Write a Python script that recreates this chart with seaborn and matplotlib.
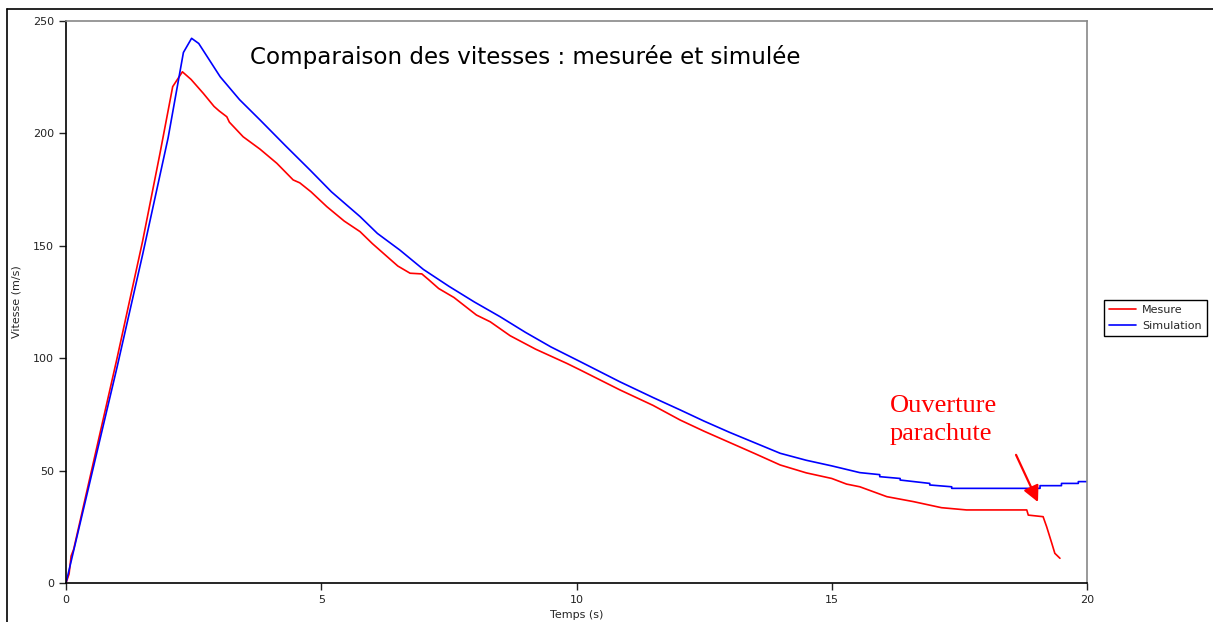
import matplotlib
matplotlib.use("Agg")
import matplotlib.pyplot as plt
from matplotlib.lines import Line2D
import seaborn as sns
import pandas as pd

# ---- data ----
t_mesure = [0.0, 0.06, 0.10, 0.15, 0.5, 1.0, 1.5, 1.84, 2.09, 2.28, 2.45, 2.69, 2.9, 3.0,
            3.15, 3.2, 3.47, 3.8, 4.13, 4.45, 4.58, 4.8, 5.11, 5.45, 5.76, 6.0, 6.2, 6.5,
            6.74, 6.97, 7.1, 7.3, 7.6, 8.04, 8.31, 8.7, 9.2, 9.81, 10.07, 10.85, 11.5,
            12.03, 12.5, 13.0, 13.5, 13.99, 14.5, 15.0, 15.29, 15.55, 16.08, 16.6, 17.15,
            17.64, 18.82, 18.85, 19.14, 19.21, 19.31, 19.37, 19.47]
v_mesure = [0.0, 4.0, 12.0, 15.0, 50.0, 100.0, 152.0, 191.0, 220.8, 227.4, 224.0, 217.8,
            212.0, 210.0, 207.4, 205.0, 198.5, 193.0, 186.7, 179.3, 178.0, 174.0, 167.4,
            161.0, 156.3, 151.0, 147.0, 141.0, 137.8, 137.5, 135.0, 131.0, 127.0, 119.2,
            116.2, 110.0, 104.0, 97.7, 94.8, 85.9, 79.0, 72.5, 67.5, 62.5, 57.5, 52.5, 49.0,
            46.5, 44.0, 42.8, 38.4, 36.2, 33.5, 32.5, 32.5, 30.2, 29.5, 25.0, 17.7, 13.2, 11.0]

t_simul = [0.0, 0.5, 1.0, 1.5, 2.0, 2.3, 2.46, 2.6, 3.02, 3.4, 3.8, 4.3, 4.78, 5.2, 5.76,
           6.1, 6.54, 7.0, 7.5, 8.0, 8.5, 9.0, 9.5, 10.07, 10.85, 11.5, 12.03, 12.5, 13.0,
           13.5, 13.99, 14.5, 15.0, 15.55, 15.94, 15.94, 16.34, 16.34, 16.92, 16.92, 17.35,
           17.35, 19.08, 19.08, 19.50, 19.50, 19.83, 19.83, 20.0]
v_simul = [0.0, 48.0, 96.0, 146.0, 198.0, 236.0, 242.3, 240.0, 225.2, 215.0, 206.0, 194.5,
           183.7, 174.0, 163.0, 155.5, 148.1, 139.5, 132.0, 125.0, 118.5, 111.5, 105.0,
           98.5, 89.5, 82.5, 77.0, 72.0, 67.0, 62.3, 57.7, 54.6, 52.1, 49.1, 48.2, 47.3,
           46.5, 45.8, 44.3, 43.6, 42.8, 42.1, 42.1, 43.3, 43.3, 44.3, 44.3, 45.1, 45.1]

series_names = ["Mesure", "Simulation"]
title_text = "Comparaison des vitesses : mesurée et simulée"
x_label = "Temps (s)"
y_label = "Vitesse (m/s)"
annot_text = "Ouverture\nparachute"

df = pd.concat([
    pd.DataFrame({"t": t_mesure, "v": v_mesure, "serie": series_names[0]}),
    pd.DataFrame({"t": t_simul, "v": v_simul, "serie": series_names[1]}),
], ignore_index=True)

sns.set_style("white")
plt.rcParams["font.family"] = ["DejaVu Sans"]

fig = plt.figure(figsize=(12.13, 6.22), dpi=100)
ax = fig.add_axes([66 / 1213, 1 - 583 / 622, (1087 - 66) / 1213, (583 - 21) / 622])

sns.lineplot(data=df, x="t", y="v", hue="serie", hue_order=series_names,
             palette={"Mesure": "#ff0000", "Simulation": "#0000ff"},
             sort=False, estimator=None, linewidth=1.2, ax=ax, legend=True)

ax.set_xlim(0, 20)
ax.set_ylim(0, 250)
ax.set_xticks([0, 5, 10, 15, 20])
ax.set_yticks([0, 50, 100, 150, 200, 250])
ax.tick_params(axis="both", labelsize=8, length=5, width=1, direction="out",
               colors="#222222", left=True, bottom=True)
ax.set_xlabel(x_label, fontsize=8, labelpad=4)
ax.set_ylabel(y_label, fontsize=8, labelpad=8)

for s in ["left", "bottom"]:
    ax.spines[s].set_color("black")
    ax.spines[s].set_linewidth(1.2)
for s in ["top", "right"]:
    ax.spines[s].set_color("#888888")
    ax.spines[s].set_linewidth(1.2)
    ax.spines[s].set_visible(True)

ax.text(0.45, 0.936, title_text, transform=ax.transAxes, fontsize=16.6,
        ha="center", va="center", color="black")

ax.annotate("", xy=(19.04, 36.0), xytext=(18.61, 57.0),
            arrowprops=dict(arrowstyle="-|>", color="red", lw=1.6, mutation_scale=24,
                            shrinkA=0, shrinkB=0))
ax.text(16.14, 83.5, annot_text, color="red", fontsize=19,
        family=["Liberation Serif", "DejaVu Serif"], ha="left", va="top", linespacing=1.35)

handles, labels = ax.get_legend_handles_labels()
ax.legend(handles, labels, loc="center left",
          bbox_to_anchor=(1104 / 1213, 1 - 318 / 622), bbox_transform=fig.transFigure,
          borderaxespad=0, fontsize=8, frameon=True, fancybox=False, edgecolor="black",
          framealpha=1, handlelength=2.4, handletextpad=0.6, borderpad=0.45,
          labelspacing=0.5)
ax.get_legend().get_frame().set_linewidth(1.0)

# outer (cropped) frame of the original image
fig.add_artist(Line2D([7 / 1213, 7 / 1213], [0, 1 - 9 / 622], color="black", lw=1.2,
                      transform=fig.transFigure))
fig.add_artist(Line2D([7 / 1213, 1], [1 - 9 / 622, 1 - 9 / 622], color="black", lw=1.2,
                      transform=fig.transFigure))

fig.savefig("out.png", dpi=100)
